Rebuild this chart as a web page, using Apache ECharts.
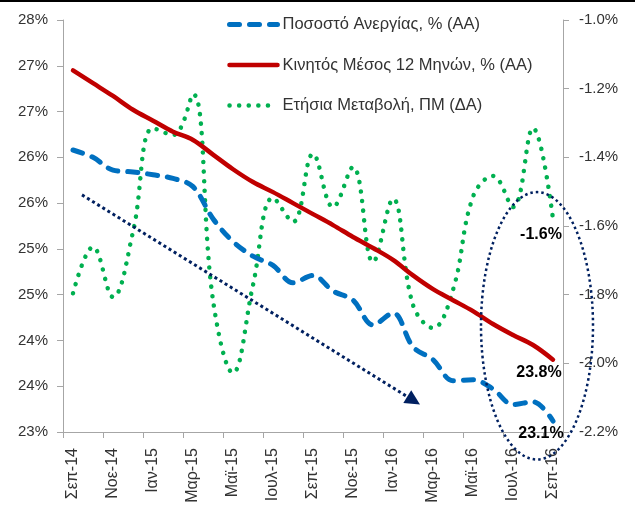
<!DOCTYPE html>
<html>
<head>
<meta charset="utf-8">
<script src="https://cdn.jsdelivr.net/npm/echarts@6/dist/echarts.min.js"></script>
<style>
html,body{margin:0;padding:0;background:#fff;}
#c{width:635px;height:506px;}
</style>
</head>
<body>
<div id="c"></div>
<script>
// ---- data ----
const categories = ['Σεπ-14','Οκτ-14','Νοε-14','Δεκ-14','Ιαν-15','Φεβ-15','Μαρ-15','Απρ-15','Μαϊ-15','Ιουν-15','Ιουλ-15','Αυγ-15','Σεπ-15','Οκτ-15','Νοε-15','Δεκ-15','Ιαν-16','Φεβ-16','Μαρ-16','Απρ-16','Μαϊ-16','Ιουν-16','Ιουλ-16','Αυγ-16','Σεπ-16'];
const unemploymentRate = [26.08,26.00,25.86,25.84,25.81,25.77,25.68,25.33,25.08,24.92,24.82,24.63,24.71,24.54,24.44,24.17,24.30,23.93,23.79,23.56,23.57,23.47,23.30,23.33,23.12];
const movingAverage12m = [26.95,26.81,26.67,26.52,26.40,26.28,26.19,26.03,25.87,25.73,25.62,25.50,25.38,25.26,25.13,25.01,24.88,24.71,24.56,24.44,24.32,24.18,24.06,23.95,23.79];
const annualChange = [-1.796,-1.661,-1.807,-1.617,-1.315,-1.335,-1.216,-1.816,-2.028,-1.772,-1.518,-1.588,-1.390,-1.545,-1.428,-1.705,-1.521,-1.830,-1.897,-1.786,-1.515,-1.454,-1.545,-1.315,-1.580];
const leftTickLabels = ['23%','24%','24%','25%','25%','26%','26%','27%','27%','28%'];
const seriesNames = ['Ποσοστό Ανεργίας, % (ΑΑ)','Κινητός Μέσος 12 Μηνών, % (ΑΑ)','Ετήσια Μεταβολή, ΠΜ (ΔΑ)'];
// annotation anchors in data space [category index, left-axis value]
const arrowStart = [0.45, 25.59];
const arrowEnd = [17.35, 23.30];
const ellipseCenter = [23.2, 24.16];
const ellipseRadius = [2.8, 1.46];

const FONT = 'Liberation Sans';
const chart = echarts.init(document.getElementById('c'), null, {renderer:'canvas'});

function lastLabel(offset){
  return {show:true, position:'bottom', distance:4, offset:offset,
    fontFamily:FONT, fontSize:16, fontWeight:'bold', color:'#000',
    formatter:p=>p.value.toFixed(1)+'%'};
}
function withLastLabel(arr, offset){
  return arr.map((v,i)=> i===arr.length-1 ?
    {value:v, symbol:'circle', symbolSize:2, itemStyle:{color:'rgba(0,0,0,0)', borderWidth:0}, label:lastLabel(offset)} : v);
}

const option = {
  animation:false,
  backgroundColor:'#fff',
  textStyle:{fontFamily:FONT},
  grid:{left:63, right:72, top:20, bottom:74, containLabel:false},
  legend:{
    orient:'vertical', left:222, top:11,
    itemWidth:48, itemHeight:14, itemGap:23.5,
    itemStyle:{color:'rgba(0,0,0,0)', borderWidth:0},
    lineStyle:{width:'inherit', type:'inherit', cap:'inherit'},
    textStyle:{fontFamily:FONT, fontSize:16.5, color:'#333'},
    data:seriesNames
  },
  xAxis:{
    type:'category', data:categories, boundaryGap:true,
    axisLine:{lineStyle:{color:'#A6A6A6', width:1}},
    axisTick:{show:true, interval:1, length:6, lineStyle:{color:'#A6A6A6'}},
    axisLabel:{interval:1, rotate:90, margin:16, fontFamily:FONT, fontSize:16, color:'#333'},
    splitLine:{show:false}
  },
  yAxis:[{
    type:'value', min:23, max:27.5, interval:0.5,
    axisLine:{show:true, lineStyle:{color:'#A6A6A6'}},
    axisTick:{show:true, length:6, lineStyle:{color:'#A6A6A6'}},
    axisLabel:{margin:15, fontFamily:FONT, fontSize:15, color:'#333',
      formatter:(v,i)=>leftTickLabels[i]},
    splitLine:{show:false}
  },{
    type:'value', min:-2.2, max:-1.0, interval:0.2, position:'right',
    axisLine:{show:true, lineStyle:{color:'#A6A6A6'}},
    axisTick:{show:true, length:6, lineStyle:{color:'#A6A6A6'}},
    axisLabel:{margin:16, fontFamily:FONT, fontSize:15, color:'#333',
      formatter:v=>v.toFixed(1)+'%'},
    splitLine:{show:false}
  }],
  series:[{
    name:seriesNames[0], type:'line', yAxisIndex:0, symbol:'none', smooth:0.35,
    lineStyle:{color:'#0070C0', width:5, type:[10,10], cap:'round'},
    itemStyle:{color:'#0070C0'},
    data:withLastLabel(unemploymentRate,[-12,0]), z:3
  },{
    name:seriesNames[1], type:'line', yAxisIndex:0, symbol:'none', smooth:0.35,
    lineStyle:{color:'#C00000', width:4.5, cap:'round'},
    itemStyle:{color:'#C00000'},
    data:withLastLabel(movingAverage12m,[-14,0]), z:2
  },{
    name:seriesNames[2], type:'line', yAxisIndex:1, symbol:'none', smooth:0.4,
    lineStyle:{color:'#00B050', width:4.5, type:[0.1,9.5], cap:'round'},
    itemStyle:{color:'#00B050'},
    data:withLastLabel(annualChange,[-12,2]), z:1
  }],
  graphic:[{type:'rect', left:0, top:0, shape:{width:635, height:2}, style:{fill:'#000'}, z:100}]
};
chart.setOption(option);

// place annotations through the axes
function toPx(pt){
  const a = chart.convertToPixel({gridIndex:0},[0, pt[1]]);
  const b = chart.convertToPixel({gridIndex:0},[categories.length-1, pt[1]]);
  const x = a[0] + (b[0]-a[0]) * pt[0] / (categories.length-1);
  return [x, a[1]];
}
const s = toPx(arrowStart), e = toPx(arrowEnd);
const ang = Math.atan2(e[1]-s[1], e[0]-s[0]);
const headLen = 15, headW = 7.5;
const bx = e[0]-headLen*Math.cos(ang), by = e[1]-headLen*Math.sin(ang);
const p1 = [bx + headW*Math.sin(ang), by - headW*Math.cos(ang)];
const p2 = [bx - headW*Math.sin(ang), by + headW*Math.cos(ang)];
const c = toPx(ellipseCenter);
const cTop = toPx([ellipseCenter[0], ellipseCenter[1]+ellipseRadius[1]]);
const cRight = toPx([ellipseCenter[0]+ellipseRadius[0], ellipseCenter[1]]);
const navy = '#002060';
chart.setOption({graphic:[
  {type:'rect', left:0, top:0, shape:{width:635, height:2}, style:{fill:'#000'}, z:100},
  {type:'line', shape:{x1:s[0], y1:s[1], x2:bx, y2:by},
   style:{stroke:navy, lineWidth:3, lineDash:[3,3]}, z:50},
  {type:'polygon', shape:{points:[e, p1, p2]}, style:{fill:navy}, z:50},
  {type:'ellipse', shape:{cx:c[0], cy:c[1], rx:cRight[0]-c[0], ry:c[1]-cTop[1]},
   style:{fill:'none', stroke:navy, lineWidth:2.5, lineDash:[2.5,3]}, z:50}
]}, {replaceMerge:['graphic']});
</script>
</body>
</html>
